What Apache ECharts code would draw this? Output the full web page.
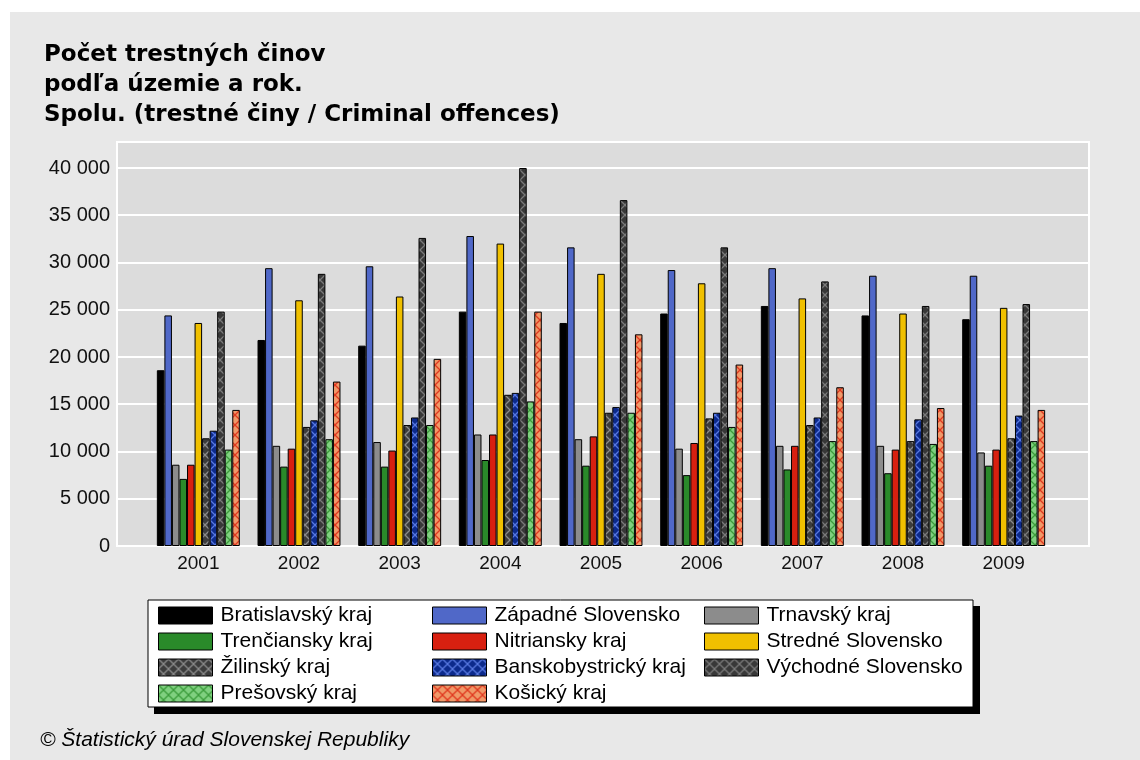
<!DOCTYPE html>
<html><head><meta charset="utf-8">
<script src="https://cdn.jsdelivr.net/npm/echarts@6/dist/echarts.min.js"></script>
<style>html,body{margin:0;padding:0;background:#fff;}#c{width:1140px;height:760px;}</style>
</head><body><div id="c"></div>
<script>
const years = ['2001','2002','2003','2004','2005','2006','2007','2008','2009'];
const seriesNames = ['Bratislavský kraj','Západné Slovensko','Trnavský kraj','Trenčiansky kraj','Nitriansky kraj','Stredné Slovensko','Žilinský kraj','Banskobystrický kraj','Východné Slovensko','Prešovský kraj','Košický kraj'];
const bratislavsky   = [18600,21800,21200,24800,23600,24600,25400,24400,24000];
const zapadne        = [24400,29400,29600,32800,31600,29200,29400,28600,28600];
const trnavsky       = [8600,10600,11000,11800,11300,10300,10600,10600,9900];
const trenciansky    = [7100,8400,8400,9100,8500,7500,8100,7700,8500];
const nitriansky     = [8600,10300,10100,11800,11600,10900,10600,10200,10200];
const stredne        = [23600,26000,26400,32000,28800,27800,26200,24600,25200];
const zilinsky       = [11400,12600,12800,16000,14100,13500,12800,11100,11400];
const banskobystricky= [12200,13300,13600,16200,14700,14100,13600,13400,13800];
const vychodne       = [24800,28800,32600,40000,36600,31600,28000,25400,25600];
const presovsky      = [10200,11300,12800,15300,14100,12600,11100,10800,11100];
const kosicky        = [14400,17400,19800,24800,22400,19200,16800,14600,14400];
const yTicks = [0,5000,10000,15000,20000,25000,30000,35000,40000];

function hatch(bg, fg){
  const s = 10;
  const c = document.createElement('canvas'); c.width = s; c.height = s;
  const g = c.getContext('2d');
  g.fillStyle = bg; g.fillRect(0,0,s,s);
  g.strokeStyle = fg; g.lineWidth = 1.3;
  g.beginPath();
  g.moveTo(0,0); g.lineTo(s,s);
  g.moveTo(s,0); g.lineTo(0,s);
  g.stroke();
  return {image: c, repeat: 'repeat'};
}
const colors = [
  '#000000','#5068c8','#8c8c8c','#2a8a2a','#d82010','#f0c000',
  hatch('#3c3c3c','#8a8a8a'),
  hatch('#0c2a8c','#5878e0'),
  hatch('#383838','#7a7a7a'),
  hatch('#80d080','#3c9c3c'),
  hatch('#f09868','#e03820')
];
const dataSets = [bratislavsky,zapadne,trnavsky,trenciansky,nitriansky,stredne,zilinsky,banskobystricky,vychodne,presovsky,kosicky];

const series = seriesNames.map((n,i)=>({
  name: n, type: 'bar', data: dataSets[i], xAxisIndex: 1, yAxisIndex: 1,
  barGap: '0%', barCategoryGap: '17.6%',
  itemStyle: {color: colors[i], borderColor: '#000', borderWidth: 1},
  emphasis: {disabled: true}
}));

const font = 'Liberation Sans, Arial, sans-serif';
const legendCommon = {
  orient: 'vertical', icon: 'rect', itemWidth: 54, itemHeight: 17, itemGap: 5,
  top: 605, padding: 0, selectedMode: false, z: 10,
  textStyle: {fontFamily: font, fontSize: 21, color: '#000', padding: [0,0,0,3]},
  itemStyle: {borderColor: '#000', borderWidth: 1}
};
const yMax = 42750;

const chart = echarts.init(document.getElementById('c'));
chart.setOption({
  animation: false,
  backgroundColor: '#fff',
  title: {
    text: 'Počet trestných činov\npodľa územie a rok.\nSpolu. (trestné činy / Criminal offences)',
    left: 39, top: 35,
    textStyle: {fontFamily: 'DejaVu Sans, Verdana, sans-serif', fontWeight: 'bold', fontSize: 23, lineHeight: 30, color: '#000'}
  },
  graphic: [
    {type: 'rect', z: -10, shape: {x: 10, y: 12, width: 1130, height: 748}, style: {fill: '#e8e8e8'}},
    {type: 'rect', z: 1, shape: {x: 154, y: 606, width: 826, height: 108}, style: {fill: '#000'}},
    {type: 'rect', z: 2, shape: {x: 148, y: 600, width: 825, height: 107}, style: {fill: '#fff', stroke: '#000', lineWidth: 1}},
    {type: 'text', z: 2, left: 40, top: 730, style: {text: '© Štatistický úrad Slovenskej Republiky', font: 'italic 21px Liberation Sans, Arial, sans-serif', fill: '#000'}}
  ],
  legend: [
    Object.assign({}, legendCommon, {left: 158, data: [seriesNames[0],seriesNames[3],seriesNames[6],seriesNames[9]]}),
    Object.assign({}, legendCommon, {left: 432, data: [seriesNames[1],seriesNames[4],seriesNames[7],seriesNames[10]]}),
    Object.assign({}, legendCommon, {left: 704, data: [seriesNames[2],seriesNames[5],seriesNames[8]]})
  ],
  grid: [
    {left: 117, right: 51, top: 142, bottom: 214, show: true, backgroundColor: '#dcdcdc', borderColor: '#fff', borderWidth: 2},
    {left: 148, right: 86, top: 142, bottom: 214}
  ],
  xAxis: [
    {type: 'value', gridIndex: 0, min: 0, max: 1, show: false},
    {type: 'category', gridIndex: 1, data: years,
     axisLine: {show: false}, axisTick: {show: false},
     axisLabel: {fontFamily: font, fontSize: 19, color: '#111', margin: 8}}
  ],
  yAxis: [
    {type: 'value', gridIndex: 0, min: 0, max: yMax, interval: 5000,
     axisLine: {show: false}, axisTick: {show: false},
     splitLine: {show: true, lineStyle: {color: '#fff', width: 2}},
     axisLabel: {fontFamily: font, fontSize: 20, color: '#111', margin: 7, showMaxLabel: false,
       formatter: v => yTicks.indexOf(v) >= 0 ? String(v).replace(/\B(?=(\d{3})+(?!\d))/g, ' ') : ''}},
    {type: 'value', gridIndex: 1, min: 0, max: yMax, interval: 5000, show: false, splitLine: {show: false}}
  ],
  series: series
});
</script></body></html>
